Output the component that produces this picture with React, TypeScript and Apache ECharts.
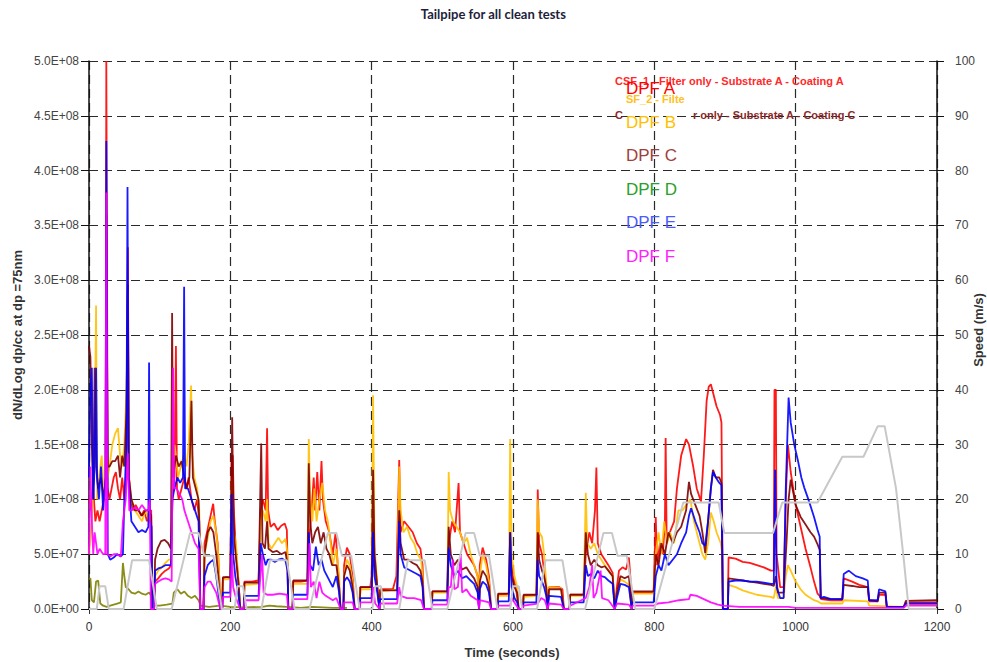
import React, { useEffect, useRef } from "react";
import * as echarts from "echarts";

// Particle concentration at dp = 75 nm, values in units of 1e7 dN/dLog dp/cc
const UNIT = 1e7;

const dpfA: [number, number][] = [
  [0, 10], [3, 9], [6, 11], [9, 8], [12, 9], [15, 8], [18, 9], [21, 10], [23.5, 12], [24.5, 50], [25.5, 50], [26.5, 11],
  [29, 10], [32, 11], [35, 12], [38, 12.5], [41, 11], [44, 10], [47, 12], [50, 10], [53, 12], [55, 33], [56.5, 12],
  [59, 10], [62, 9], [66, 9.5], [70, 9], [74, 8.5], [78, 9], [82, 8], [86, 9], [88, 9], [89.5, 0], [92, 0], [93.5, 2.5],
  [98, 2.8], [103, 3.2], [108, 3.5], [113, 3.7], [116, 4], [118, 10], [121, 12], [123, 24], [124.5, 11], [127, 10],
  [131, 11], [135, 12], [138, 11], [141, 12], [145, 10], [149, 9], [153, 10], [156, 8], [157.5, 0], [162, 0], [163.5, 6],
  [167, 7], [172, 8.5], [175.7, 9.6], [178, 8], [182, 6], [185, 2], [186.5, 0], [188.5, 0], [189.5, 2.8], [195, 2.9],
  [200, 2.8], [202, 14], [203.5, 14], [205, 9], [208, 5], [211, 3], [214, 0], [219, 0], [220, 2.5], [230, 2.5], [240, 2.6],
  [243, 9], [246, 10], [250, 9], [252, 16.5], [253.5, 9], [257, 7.5], [262, 7.8], [267, 7.2], [272, 7.6], [277, 7.8],
  [280, 7.2], [282, 0], [288, 0], [289, 2.5], [300, 2.5], [309, 2.6], [311, 6], [315, 9], [318, 12], [320, 9], [323, 12.5],
  [326, 9], [329, 13.5], [331, 10], [335, 8], [340, 7], [345, 5], [349, 7], [352, 4], [356, 0], [360, 0], [361, 4],
  [365, 5.6], [369, 5], [373, 3], [376, 0], [383, 0], [384, 2], [398, 2], [400, 3], [402, 8], [404, 4], [408, 2], [411, 0],
  [412, 1.8], [430, 1.8], [435, 3], [439, 13.6], [441, 7], [446, 8], [452, 7.5], [458, 7], [464, 6], [469, 5.5], [472, 4],
  [474, 0], [485, 0], [486, 1.6], [507, 1.6], [509, 6], [514, 8], [518, 7], [523, 11.5], [525, 7], [530, 6], [535, 5],
  [540, 4.5], [545, 4], [550, 3], [552, 0], [553, 4], [557, 5.6], [562, 4.5], [566, 3], [569, 0], [578, 0], [579, 1.3],
  [594, 1.4], [596, 5], [600, 3], [604, 2], [608, 0], [614, 0], [615, 1.2], [634, 1.3], [635, 10.9], [637, 6], [641, 5],
  [644, 3.5], [647, 2], [649, 0], [651, 2.0], [665, 2.0], [670, 1.8], [672, 0], [680, 0], [681, 1.3], [700, 1.3],
  [703, 5], [708, 7], [712, 6], [716, 9], [718, 12.9], [720, 6], [725, 5], [730, 4.5], [735, 4], [741, 3.3], [744, 0],
  [747, 2], [750, 3.5], [755, 3.8], [760, 3.6], [764, 4.7], [766, 3], [768, 0], [769, 1.5], [799, 1.5], [802, 8.4],
  [804, 4], [808, 6], [812, 5], [815, 8], [816, 15.6], [817.5, 6], [822, 7], [828, 8], [832, 11], [838, 14], [845, 15.5],
  [849, 15], [855, 13], [860, 11], [866, 9.8], [870, 14], [874, 19], [877, 20.3], [880, 20.5], [884, 19.5], [888, 18.5],
  [893, 17.7], [895, 17], [897, 0], [904, 0], [905, 4.7], [915, 4.6], [925, 4.3], [935, 4.2], [945, 4.0], [955, 3.8],
  [965, 3.5], [969, 3.5], [970, 20], [972, 20], [973, 5], [978, 2], [983, 2], [986, 10], [989, 15], [993, 12.5],
  [1000, 9.5], [1007, 7.5], [1014, 5.5], [1021, 3.8], [1026, 2.5], [1031, 1.4], [1034, 1.2], [1036, 0.9], [1050, 0.8],
  [1066, 0.8], [1068, 2.8], [1080, 2.5], [1090, 2.2], [1102, 2.0], [1104, 0.7], [1116, 0.7], [1118, 1.3], [1127, 1.3],
  [1129, 0.2], [1153, 0.2], [1156, 0.6], [1200, 0.6],
];

const dpfB: [number, number][] = [
  [0, 5], [4, 8], [8, 15], [10, 27.7], [11.5, 10], [14, 12], [18, 14], [21, 10], [23.5, 12], [24.5, 25], [25.5, 25],
  [26.5, 12], [29, 13], [33, 15], [37, 16], [41, 16.5], [44, 14], [47, 13], [50, 15], [53, 20], [55, 29], [56.5, 12],
  [60, 10], [65, 9], [70, 8.5], [75, 8], [80, 9], [85, 8], [88, 8], [89.5, 0], [92, 0], [93.5, 3], [98, 3.5], [103, 3.8],
  [108, 4.2], [113, 4.5], [116, 4.5], [118, 12], [121, 15], [123, 14], [126, 12], [130, 13], [134, 14], [138, 13],
  [141, 15], [144.5, 20.4], [146, 14], [149, 12], [153, 11], [156, 9], [157.5, 0], [162, 0], [163.5, 5], [168, 6.5],
  [172, 8], [176, 8.5], [180, 7], [183, 5], [186, 0], [188.5, 0], [189.5, 2.7], [200, 2.7], [202, 12], [203.5, 10],
  [205, 7], [208, 6], [211, 3], [214, 0], [219, 0], [220, 2.2], [240, 2.3], [243, 8], [246, 9], [250, 8], [252, 10],
  [254, 6], [258, 5.5], [263, 6], [268, 6.5], [273, 6], [278, 6.4], [281, 5], [282, 0], [288, 0], [289, 2.3], [309, 2.3],
  [311, 15.5], [313, 10], [316, 8], [319, 11], [322, 8], [326, 10], [330, 11.5], [334, 9], [338, 8], [342, 6], [345, 4],
  [350, 5.5], [354, 3], [356, 0], [360, 0], [361, 3], [365, 4.5], [369, 4], [373, 2.5], [376, 0], [383, 0], [384, 1.8],
  [400, 1.8], [402, 19.5], [404, 6], [408, 2], [411, 0], [412, 1.6], [436, 1.8], [439, 13], [441, 9], [445, 7],
  [450, 7.5], [455, 6.5], [460, 6], [465, 5], [470, 4.5], [472, 3], [474, 0], [485, 0], [486, 1.5], [507, 1.5],
  [509, 12.5], [511, 9], [515, 8], [520, 7.5], [525, 7], [530, 6], [535, 6.5], [540, 5], [545, 4], [550, 3], [552, 0],
  [553, 3], [557, 5], [562, 4], [566, 2.5], [569, 0], [578, 0], [579, 1.2], [594, 1.2], [596, 15.5], [598, 5], [602, 3],
  [606, 2], [608, 0], [614, 0], [615, 1.1], [633, 1.2], [635, 10], [637, 7], [641, 6.6], [644, 5], [647, 2.5], [649, 0],
  [651, 2.0], [668, 1.9], [672, 0], [680, 0], [681, 1.2], [700, 1.2], [703, 10.6], [705, 6], [710, 5.5], [715, 6],
  [720, 5], [725, 4.5], [730, 4], [735, 3.5], [741, 3], [744, 0], [747, 1.5], [752, 2.7], [758, 2.5], [764, 2.2],
  [768, 0], [769, 1.4], [799, 1.4], [802, 5], [806, 7], [810, 5], [814, 8], [818, 6], [822, 7], [828, 6], [834, 9],
  [840, 9], [845, 9.5], [851, 10], [856, 8], [862, 6.5], [868, 5], [872, 4.5], [876, 6], [880, 8.8], [884, 8], [888, 7],
  [894, 6], [896, 5], [897, 0], [904, 0], [905, 2.2], [915, 2.0], [925, 1.7], [935, 1.5], [945, 1.3], [955, 1.2],
  [965, 1.1], [969, 1.0], [972, 2], [975, 1], [983, 1], [986, 3], [989, 4], [993, 3.5], [1000, 2.5], [1007, 1.8],
  [1014, 1.3], [1021, 1.0], [1026, 0.8], [1031, 0.7], [1036, 0.5], [1066, 0.5], [1068, 0.8], [1102, 0.7], [1104, 0.3],
  [1153, 0.2], [1156, 0.4], [1200, 0.4],
];

const dpfC: [number, number][] = [
  [0, 24], [2, 23], [4, 15], [6, 10], [8, 22], [10, 13], [13, 11], [17, 12], [21, 10], [23.5, 12], [24.5, 36], [25.5, 36],
  [26.5, 13], [29, 13], [33, 13.5], [37, 13.5], [41, 14], [44, 12], [47, 14], [50, 13], [53, 18], [55, 29.6], [56.5, 12],
  [60, 10], [65, 9], [70, 9], [75, 8.5], [80, 9], [85, 9], [88, 8.5], [89.5, 0], [92, 0], [93.5, 4.5], [97, 5.5],
  [102, 6.2], [107, 6.3], [112, 6], [116, 5.5], [117.6, 27], [119, 12], [123, 14], [127, 13], [131, 13.5], [135, 12],
  [138, 11], [142, 12], [145, 19], [147, 12], [151, 11], [155, 10], [156.5, 7], [157.5, 0], [162, 0], [163.5, 5],
  [168, 7], [172, 7.5], [176, 7], [180, 5], [183, 3], [186, 0], [188.5, 0], [189.5, 2.9], [200, 2.9], [202.6, 17.5],
  [204, 10], [206, 6], [209, 4], [212, 2], [214, 0], [219, 0], [220, 2.4], [240, 2.4], [243.7, 15.1], [245.5, 6],
  [249, 5.5], [252, 8], [254, 5.5], [260, 5.2], [266, 5.3], [272, 5], [278, 5.2], [281, 4], [282, 0], [288, 0],
  [289, 2.6], [309, 2.6], [311, 13.3], [313, 8], [316, 6], [320, 7], [324, 7.5], [328, 6], [332, 7], [336, 5.5], [340, 5],
  [344, 4], [350, 4], [354, 2], [356, 0], [360, 0], [361, 3], [365, 4], [369, 3.5], [373, 2], [376, 0], [383, 0],
  [384, 2.0], [400, 2.0], [402, 12.7], [404, 5], [408, 2], [411, 0], [412, 1.7], [436, 1.7], [439, 9], [441, 6],
  [446, 4.5], [452, 4.5], [458, 4.2], [464, 4], [469, 3.5], [472, 2.5], [474, 0], [485, 0], [486, 1.6], [507, 1.6],
  [509, 7.5], [512, 5], [517, 4], [522, 4.5], [528, 3.6], [534, 3.8], [540, 3.2], [545, 2.8], [550, 2], [552, 0],
  [553, 2.5], [557, 3.5], [562, 3], [566, 2], [569, 0], [578, 0], [579, 1.4], [594, 1.4], [596, 7], [598, 3], [602, 2],
  [606, 1.5], [608, 0], [614, 0], [615, 1.3], [633, 1.3], [635, 7], [637, 4.5], [641, 3.5], [644, 3], [647, 2], [649, 0],
  [651, 1.8], [668, 1.8], [672, 0], [680, 0], [681, 1.3], [700, 1.3], [703, 7], [706, 5], [710, 4], [715, 4.5], [720, 4],
  [725, 3.8], [730, 3.9], [735, 3.5], [741, 3], [744, 0], [747, 1.5], [752, 3], [758, 2.8], [764, 3], [768, 0],
  [769, 1.6], [799, 1.6], [802, 5], [806, 4], [810, 6], [815, 5], [820, 7], [826, 6], [832, 7], [838, 7.5], [845, 9],
  [849, 11.6], [852, 10.5], [858, 9.5], [864, 8.5], [868, 7], [872, 5.1], [876, 8], [880, 11], [883, 12.7], [887, 12],
  [892, 12], [895, 11.5], [897, 0], [904, 0], [905, 2.8], [915, 2.7], [925, 2.6], [935, 2.5], [945, 2.4], [955, 2.3],
  [965, 2.2], [969, 2.1], [972, 3], [975, 1.5], [983, 1.5], [987, 6], [990, 10], [993, 11.8], [1000, 9.5], [1007, 8.4],
  [1014, 7.7], [1021, 7], [1026, 6.6], [1031, 5.9], [1034, 5.4], [1036, 1.0], [1050, 0.9], [1066, 0.9], [1068, 2.2],
  [1080, 2.1], [1090, 2.0], [1102, 2.0], [1104, 0.8], [1116, 0.7], [1118, 1.5], [1127, 1.5], [1129, 0.2], [1153, 0.2],
  [1156, 0.75], [1200, 0.8],
];

const dpfD: [number, number][] = [
  [0, 2.7], [2, 2.8], [4, 0.8], [7, 0.6], [10, 2.5], [13, 2.6], [16, 0.5], [20, 0.3], [25, 0.2], [30, 0.3], [35, 0.4],
  [40, 0.5], [45, 0.6], [48, 4.2], [50, 3], [52, 2.0], [56, 1.8], [60, 1.5], [65, 1.4], [70, 1.6], [75, 1.4], [80, 1.3],
  [85, 1.5], [88, 1.2], [90, 0.3], [100, 0.3], [110, 0.4], [118, 0.5], [120, 1.5], [125, 1.8], [130, 1.4], [135, 1.6],
  [140, 1.2], [145, 1.0], [150, 1.2], [155, 0.8], [158, 0.3], [170, 0.2], [185, 0.3], [200, 0.2], [220, 0.15],
  [245, 0.2], [255, 0.3], [265, 0.25], [280, 0.2], [300, 0.1], [315, 0.2], [330, 0.15], [345, 0.1], [365, 0.1],
];

const dpfE: [number, number][] = [
  [0, 12], [2, 20], [4, 22], [6, 10], [8, 13], [10, 22], [11.5, 12], [14, 10], [17, 13], [20, 9], [23.5, 12],
  [24.5, 42.7], [25.5, 42.7], [26.5, 5], [30, 4.5], [35, 4.7], [40, 5], [45, 4.8], [48, 5], [50, 10], [53, 15],
  [54.5, 38.5], [56, 12], [60, 8], [65, 7.5], [70, 7], [75, 7.2], [80, 7], [84, 7.5], [85, 22.5], [86.5, 8], [88.5, 7.5],
  [89.5, 0], [92, 0], [93.5, 3.5], [98, 3.7], [103, 3.8], [108, 4], [113, 4], [116, 4], [118, 10], [121, 11], [125, 12],
  [129, 11.5], [133, 12], [134.6, 29.4], [136, 11], [140, 11], [145, 10], [150, 9], [155, 8], [157.5, 0], [162, 0],
  [163.5, 3], [168, 4], [172, 4.3], [176, 4.5], [180, 3], [183, 1.5], [186, 0], [188.5, 0], [189.5, 1.5], [200, 1.5],
  [202, 10.5], [204, 5], [207, 3], [211, 1.5], [214, 0], [219, 0], [220, 1.2], [240, 1.2], [243, 6], [246, 5], [250, 4],
  [253, 4.5], [258, 4.5], [263, 4.3], [268, 4.5], [273, 4.6], [278, 4.4], [281, 3.5], [282, 0], [288, 0], [289, 1.3],
  [309, 1.3], [311, 7], [313, 4], [317, 3.5], [321, 5.7], [325, 4], [329, 4.5], [333, 3.5], [337, 3], [341, 2.5],
  [345, 2], [350, 3], [354, 1.5], [356, 0], [360, 0], [361, 2.5], [365, 2.9], [369, 2.5], [373, 1.5], [376, 0], [383, 0],
  [384, 1.0], [400, 1.0], [402, 7], [404, 3], [408, 1.5], [411, 0], [412, 0.9], [436, 0.9], [439, 8], [441, 5],
  [446, 3.8], [452, 3.6], [458, 3.4], [464, 3.2], [469, 3], [472, 2], [474, 0], [485, 0], [486, 0.8], [507, 0.8],
  [509, 5.6], [512, 4], [517, 3], [522, 3.5], [528, 2.8], [534, 3], [540, 2.6], [545, 2.3], [550, 1.5], [552, 0],
  [553, 1.8], [557, 2.5], [562, 2.2], [566, 1.5], [569, 0], [578, 0], [579, 0.7], [594, 0.7], [596, 7], [598, 2],
  [602, 1], [606, 0.6], [608, 0], [614, 0], [615, 0.6], [633, 0.6], [635, 4.5], [637, 3], [641, 2.5], [644, 2],
  [647, 1.2], [649, 0], [651, 1.2], [668, 1.1], [672, 0], [680, 0], [681, 0.6], [700, 0.6], [703, 4], [706, 3],
  [710, 3.2], [715, 2.8], [720, 3.5], [725, 3], [730, 2.9], [735, 2.6], [741, 2.3], [744, 0], [747, 1], [752, 2.3],
  [758, 2.2], [764, 2], [768, 0], [769, 0.6], [799, 0.6], [802, 3], [806, 4], [810, 3.5], [815, 5], [820, 4], [826, 4.5],
  [832, 5], [838, 6], [845, 7], [849, 8.5], [852, 9.2], [858, 8], [864, 7], [868, 6], [872, 5.8], [876, 8], [880, 11],
  [883, 12.5], [887, 12], [892, 11.5], [895, 11.3], [897, 0], [904, 0], [905, 2.5], [915, 2.6], [925, 2.6], [935, 2.5],
  [945, 2.5], [955, 2.4], [965, 2.3], [969, 2.3], [971, 12.7], [973, 2], [978, 1], [983, 1], [986, 11], [990, 19.3],
  [993, 17], [998, 15], [1003, 13.6], [1008, 12], [1012, 11.1], [1018, 10], [1026, 8.4], [1031, 7.2], [1034, 6.6],
  [1035, 1.0], [1040, 1.1], [1050, 0.9], [1066, 0.9], [1068, 3.2], [1075, 3.5], [1085, 3.0], [1095, 2.8], [1102, 2.6],
  [1104, 0.8], [1116, 0.8], [1118, 1.8], [1127, 1.6], [1129, 0.2], [1153, 0.2], [1156, 0.5], [1200, 0.5],
];

const dpfF: [number, number][] = [
  [0, 5], [2, 13], [4, 8], [6, 5], [8, 7], [10, 6], [12, 5], [15, 5.5], [20, 5], [23, 5], [24.5, 38], [26, 5], [30, 4.8],
  [35, 5], [40, 5], [45, 4.8], [48, 8], [52, 10], [55, 14.2], [57, 9], [60, 9], [65, 9.3], [70, 9], [75, 9.5], [80, 9],
  [84, 9], [86, 10], [87.5, 0], [92, 0], [93.5, 2.3], [98, 2.5], [103, 2.7], [108, 2.8], [113, 2.7], [117, 2.5],
  [119, 22], [120.5, 11], [124, 11], [128, 10.5], [132, 10], [135, 9], [140, 8], [145, 7], [150, 6], [155, 5.5],
  [157.5, 0], [162, 0], [163.5, 2], [168, 2.5], [172, 2.5], [176, 2], [180, 1.5], [186, 0], [188.5, 0], [189.5, 1.1],
  [200, 1.1], [202, 5], [204, 2], [208, 1], [214, 0], [219, 0], [220, 0.8], [240, 0.8], [245, 5], [247, 1.5],
  [252, 1.3], [260, 1.3], [270, 1.4], [280, 1.3], [282, 0], [288, 0], [289, 0.9], [309, 0.9], [312, 6], [314, 2],
  [318, 2.5], [322, 1], [326, 2.5], [330, 1.5], [335, 1.2], [340, 1], [345, 0.8], [350, 1], [356, 0], [360, 0],
  [361, 0.6], [373, 0.6], [376, 0], [383, 0], [384, 0.6], [400, 0.6], [402, 2], [405, 0.5], [411, 0], [412, 0.5],
  [436, 0.5], [439, 2], [441, 1.2], [450, 1], [460, 1], [470, 0.8], [474, 0], [485, 0], [486, 0.4], [507, 0.4],
  [509, 2], [512, 2], [515, 4.5], [517, 1.8], [522, 2], [526, 5], [528, 1.5], [534, 1.8], [540, 1.2], [550, 0.8],
  [552, 0], [553, 0.8], [566, 0.6], [569, 0], [578, 0], [579, 0.3], [596, 0.3], [598, 1], [608, 0], [614, 0], [615, 0.3],
  [635, 0.5], [640, 1], [645, 0.8], [649, 0], [651, 0.5], [668, 0.4], [672, 0], [680, 0], [681, 0.3], [703, 1],
  [708, 2], [712, 4], [714, 1], [718, 1.5], [724, 3.5], [726, 1], [735, 0.8], [744, 0], [747, 0.5], [764, 0.4],
  [768, 0], [769, 0.3], [799, 0.3], [805, 0.5], [820, 0.6], [835, 0.8], [849, 0.9], [851, 1.3], [860, 1.2], [870, 0.9],
  [880, 0.6], [890, 0.4], [897, 0.3], [920, 0.2], [960, 0.2], [990, 0.2], [1000, 0.1], [1100, 0.1], [1153, 0.1],
  [1156, 0.3], [1200, 0.3],
];

// Vehicle speed over the drive cycle (m/s)
const speed: [number, number][] = [
  [0, 0], [11, 0], [15, 4.17], [23, 4.17], [28, 0], [49, 0], [61, 8.89], [85, 8.89], [96, 0], [117, 0], [143, 13.89],
  [155, 13.89], [163, 9.72], [176, 9.72], [188, 0], [195, 0],
  [206, 0], [210, 4.17], [218, 4.17], [223, 0], [244, 0], [256, 8.89], [280, 8.89], [291, 0], [312, 0], [338, 13.89],
  [350, 13.89], [358, 9.72], [371, 9.72], [383, 0], [390, 0],
  [401, 0], [405, 4.17], [413, 4.17], [418, 0], [439, 0], [451, 8.89], [475, 8.89], [486, 0], [507, 0], [533, 13.89],
  [545, 13.89], [553, 9.72], [566, 9.72], [578, 0], [585, 0],
  [596, 0], [600, 4.17], [608, 4.17], [613, 0], [634, 0], [646, 8.89], [670, 8.89], [681, 0], [702, 0], [728, 13.89],
  [740, 13.89], [748, 9.72], [761, 9.72], [773, 0], [780, 0],
  [800, 0], [841, 19.44], [891, 19.44], [899, 13.89], [968, 13.89], [981, 19.44], [1031, 19.44], [1066, 27.78],
  [1096, 27.78], [1116, 33.33], [1126, 33.33], [1142, 22], [1153, 9], [1160, 0], [1180, 0], [1200, 0],
];

const seriesNames = ["DPF A", "DPF B", "DPF C", "DPF D", "DPF E", "DPF F"];
const lineColors = ["#ff0000", "#ffc000", "#800000", "#808000", "#0000ff", "#ff00ff"];
const legendColors = ["#ff0000", "#ffc000", "#a0403a", "#2aa02a", "#4a5cff", "#ff22ff"];
const xTicks = { min: 0, max: 1200, interval: 200 };
const leftTicks = { min: 0, max: 5e8, interval: 5e7 };
const rightTicks = { min: 0, max: 100, interval: 10 };

const sci = (v: number): string => {
  if (v === 0) return "0.0E+00";
  const e = Math.floor(Math.log10(v) + 1e-9);
  const m = v / Math.pow(10, e);
  return m.toFixed(1) + "E+" + String(e).padStart(2, "0");
};

const FONT = "Liberation Sans, Arial, sans-serif";

export default function App() {
  const ref = useRef<HTMLDivElement>(null);

  useEffect(() => {
    if (!ref.current) return;
    const chart = echarts.init(ref.current, undefined, { renderer: "svg" });
    const all = [dpfA, dpfB, dpfC, dpfD, dpfE, dpfF];
    const dash = { type: [9, 5] as number[], color: "#2a2a2a", width: 1.2 };

    const legendTexts = seriesNames.map((n, i) => ({
      type: "text",
      left: 626,
      top: 80 + i * 33.5,
      z: 100,
      style: { text: n, fill: legendColors[i], font: `17px ${FONT}` },
    }));

    const option: any = {
      animation: false,
      backgroundColor: "#ffffff",
      grid: { left: 89, right: 50, top: 61, bottom: 53 },
      xAxis: {
        type: "value",
        ...xTicks,
        axisLine: { show: true, lineStyle: { color: "#333", width: 1 } },
        axisTick: { show: true, length: 5, lineStyle: { color: "#333" } },
        axisLabel: { color: "#333", fontSize: 12, fontFamily: FONT, margin: 12, formatter: (v: number) => String(v) },
        splitLine: { show: true, lineStyle: dash },
      },
      yAxis: [
        {
          type: "value",
          ...leftTicks,
          axisLine: { show: true, lineStyle: { color: "#111", width: 1.5 } },
          axisTick: { show: true, length: 8, lineStyle: { color: "#111" } },
          axisLabel: { color: "#444", fontSize: 12, fontFamily: FONT, margin: 10, formatter: sci },
          splitLine: { show: true, lineStyle: dash },
        },
        {
          type: "value",
          position: "right",
          ...rightTicks,
          axisLine: { show: true, lineStyle: { color: "#111", width: 1.5 } },
          axisTick: { show: true, length: 7, lineStyle: { color: "#111" } },
          axisLabel: { color: "#444", fontSize: 12, fontFamily: FONT, margin: 18 },
          splitLine: { show: false },
        },
      ],
      series: [
        ...all.map((d, i) => ({
          name: seriesNames[i],
          type: "line",
          yAxisIndex: 0,
          showSymbol: false,
          data: d.map(([t, v]) => [t, v * UNIT]),
          lineStyle: { color: lineColors[i], width: 1.8, opacity: 0.9 },
          itemStyle: { color: lineColors[i] },
          z: 3 + i,
        })),
        {
          name: "Speed",
          type: "line",
          yAxisIndex: 1,
          showSymbol: false,
          data: speed,
          lineStyle: { color: "#c8c8c8", width: 2 },
          itemStyle: { color: "#c8c8c8" },
          z: 10,
        },
      ],
      graphic: [
        {
          type: "text",
          left: "center",
          top: 7,
          style: { text: "Tailpipe for all clean tests", fill: "#1e1e3c", font: `bold 13px Lato, ${FONT}` },
        },
        {
          type: "text",
          x: 17,
          y: 335,
          rotation: Math.PI / 2,
          style: {
            text: "dN/dLog dp/cc at dp =75nm",
            fill: "#333",
            font: `bold 13px ${FONT}`,
            align: "center",
            verticalAlign: "middle",
          },
        },
        {
          type: "text",
          x: 978,
          y: 330,
          rotation: Math.PI / 2,
          style: { text: "Speed (m/s)", fill: "#333", font: `bold 13px ${FONT}`, align: "center", verticalAlign: "middle" },
        },
        {
          type: "text",
          x: 512,
          y: 652,
          style: { text: "Time (seconds)", fill: "#333", font: `bold 13px ${FONT}`, align: "center", verticalAlign: "middle" },
        },
        {
          type: "text",
          left: 615,
          top: 75,
          z: 99,
          style: { text: "CSF_1 - Filter only - Substrate A - Coating A", fill: "#ff2a2a", font: `bold 11px ${FONT}` },
        },
        {
          type: "text",
          left: 626,
          top: 93,
          z: 99,
          style: { text: "SF_2 - Filte", fill: "#ffc020", font: `bold 11px ${FONT}` },
        },
        {
          type: "text",
          left: 615,
          top: 109,
          z: 99,
          style: { text: "C", fill: "#8b2a2a", font: `bold 11px ${FONT}` },
        },
        {
          type: "text",
          left: 693,
          top: 109,
          z: 99,
          style: { text: "r only - Substrate A - Coating C", fill: "#8b2a2a", font: `bold 11px ${FONT}` },
        },
        ...legendTexts,
      ],
    };

    chart.setOption(option);
    return () => chart.dispose();
  }, []);

  return (
    <div
      ref={ref}
      style={{ position: "fixed", left: 0, top: 0, width: 987, height: 662, background: "#fff" }}
    />
  );
}
